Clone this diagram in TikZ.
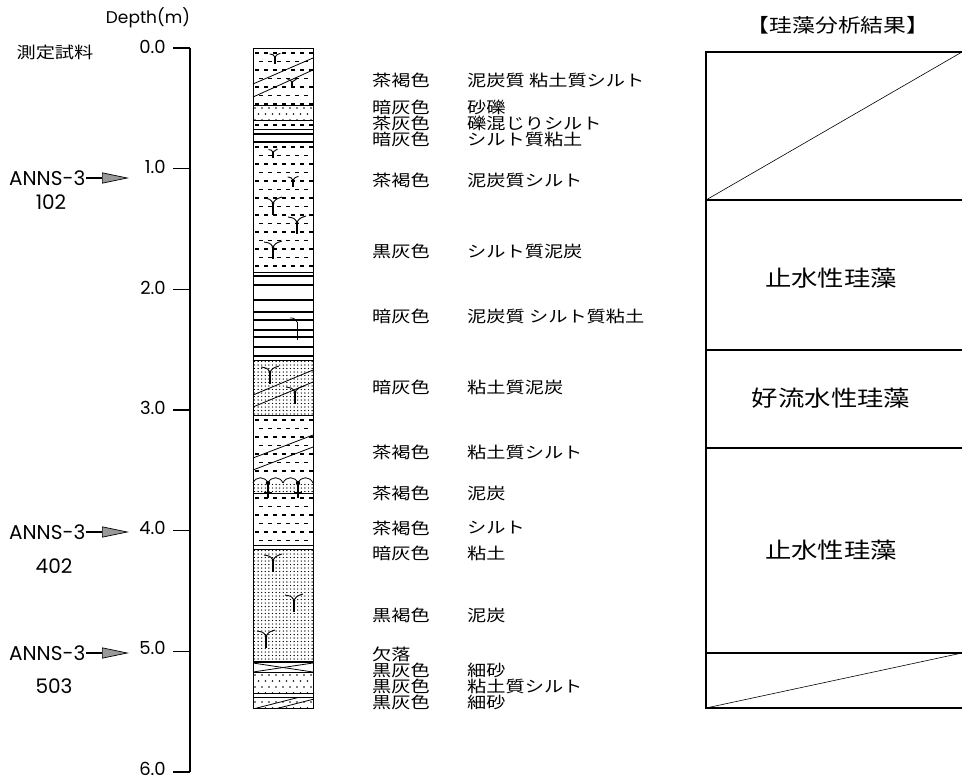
\documentclass[tikz,border=0pt]{standalone}
\usepackage{fontspec}
\setmainfont{Poppins}
\newfontfamily\jpfont{Noto Sans CJK JP}[FakeStretch=1.2]
\usetikzlibrary{arrows.meta}

% silt: staggered rows of short dashes
\newcommand\siltfill[4]{%
  \begin{scope}
    \clip (#1,#2) rectangle (#3,#4);
    \foreach \i in {0,...,16}{\foreach \j in {0,...,7}{%
      \draw[line width=1.1pt] ({#1+2+9*\j+4*mod(\i,2)},{#2+5+8.5*\i}) -- ++(4,0);}}
  \end{scope}}
% sand: sparse staggered dots
\newcommand\sandfill[4]{%
  \begin{scope}
    \clip (#1,#2) rectangle (#3,#4);
    \foreach \i in {0,...,4}{\foreach \j in {0,...,9}{%
      \fill ({#1+2+7*\j+3.5*mod(\i,2)},{#2+3+6*\i}) circle (0.9);}}
  \end{scope}}
% peat / clay: dense dot grid
\newcommand\densefill[4]{%
  \begin{scope}
    \clip (#1,#2) rectangle (#3,#4);
    \foreach \i in {0,...,33}{\foreach \j in {0,...,16}{%
      \fill ({#1+1.5+3.6*\j},{#2+1.5+3.5*\i}) circle (0.7);}}
  \end{scope}}

\begin{document}
\begin{tikzpicture}[x=1pt,y=-1pt,
  axisline/.style={line width=1.4pt},
  depthlbl/.style={font=\fontsize{18}{20}\selectfont, inner sep=0pt},
  samplelbl/.style={font=\fontsize{20}{22}\selectfont, inner sep=0pt},
  samplearrow/.style={line width=1.6pt,
    -{Triangle[length=27pt,width=11pt,fill=black!40,line width=0.7pt]}},
  jplbl/.style={font=\jpfont\fontsize{16}{17}\selectfont, inner sep=0pt, anchor=west},
  boxlbl/.style={font=\jpfont\fontsize{22}{24}\selectfont, inner sep=0pt},
  boxline/.style={line width=1.8pt},
  layer/.style={line width=0.8pt},
  rootmark/.pic={
    \draw[line width=1.2pt] (0,0) -- (0,12);
    \draw[line width=0.9pt] (-9,-5) .. controls (-3,-4) .. (0,0);
    \draw[line width=0.9pt] (9,-6) .. controls (3,-4) .. (0,0);
    \fill (0,0) circle (1.5);}]
\useasboundingbox (0,0) rectangle (962,780);

% ---------- depth scale ----------
\node[font=\fontsize{17}{19}\selectfont, inner sep=0pt] (dtitle) at (148,18) {Depth(m)};
\node[font=\jpfont\fontsize{16}{17}\selectfont, inner sep=0pt] (sampletitle) at (55,52) {測定試料};
\draw[axisline] (190,48) -- (190,772);
\foreach \d in {0,...,6}{
  \draw[axisline] (173,{48+120.67*\d}) -- (190,{48+120.67*\d});
  \node[depthlbl, anchor=east] (d\d) at (166,{47+120.67*\d-0.4*\d}) {\d.0};
}

% ---------- sample positions ----------
\node[samplelbl, anchor=west] (s1) at (9,178) {ANNS-3};
\node[samplelbl] (n1) at (51,202) {102};
\coordinate (p1) at (129,178);
\draw[samplearrow] (s1.east) -- (p1);

\node[samplelbl, anchor=west] (s4) at (9,532) {ANNS-3};
\node[samplelbl] (n4) at (54,566) {402};
\coordinate (p4) at (129,532);
\draw[samplearrow] (s4.east) -- (p4);

\node[samplelbl, anchor=west] (s5) at (9,653) {ANNS-3};
\node[samplelbl] (n5) at (54,686) {503};
\coordinate (p5) at (129,653);
\draw[samplearrow] (s5.east) -- (p5);

% ---------- columnar section ----------
\begin{scope}[layer]
  % peaty clayey silt
  \siltfill{253}{48}{313}{105}
  \draw (253,97) -- (313,70);
  \draw (253,84) -- (313,58);
  \pic[scale=0.6] at (275,57) {rootmark};
  \pic[scale=0.5] at (292,82) {rootmark};
  \draw (253,105) -- (313,105);
  % sandy gravel
  \sandfill{253}{105}{313}{120}
  \draw (253,120) -- (313,120);
  % silt with gravel
  \foreach \j in {0,...,6} \draw[line width=1.1pt] ({255+9*\j},125) -- ++(4,0);
  \draw (253,129) -- (313,129);
  % silty clay
  \draw[line width=1.8pt] (253,134) -- (313,134);
  \draw[line width=2.4pt] (253,142) -- (313,142);
  % peaty silt
  \siltfill{253}{142}{313}{272}
  \pic[scale=0.5] at (273,152) {rootmark};
  \pic[scale=0.6] at (293,180) {rootmark};
  \pic at (273,203) {rootmark};
  \pic at (297,222) {rootmark};
  \pic at (273,247) {rootmark};
  \draw (253,272) -- (313,272);
  % peaty silty clay
  \foreach \y in {276,285,300,312,320,330,337,347,356}
    \draw[line width=1.2pt] (253,\y) -- (313,\y);
  \draw (297,322) -- (297,340);
  \draw (290,318) .. controls (294,318) .. (297,322);
  % clayey peat
  \densefill{253}{360}{313}{415}
  \draw (253,395) -- (313,370);
  \draw (253,407) -- (313,382);
  \pic at (270,372) {rootmark};
  \pic at (295,392) {rootmark};
  \draw (253,360) -- (313,360);
  \draw (253,415) -- (313,415);
  % clayey silt
  \siltfill{253}{415}{313}{475}
  \draw (253,458) -- (313,435);
  \draw (253,470) -- (313,447);
  % peat
  \foreach \x in {253,268,283,298}
    \draw (\x,483) .. controls (\x+3,476) and (\x+12,476) .. (\x+15,483);
  \densefill{253}{483}{313}{493}
  \fill (268,483) circle (2.2);
  \fill (298,483) circle (2.2);
  \draw[line width=1.1pt] (268,483) -- (268,498);
  \draw[line width=1.1pt] (298,483) -- (298,498);
  \draw (264,492) -- (272,492);
  \draw (294,492) -- (302,492);
  \draw (253,493) -- (313,493);
  % silt
  \siltfill{253}{493}{313}{545}
  % clay
  \draw (253,545) -- (313,545);
  \draw (253,549) -- (313,549);
  % peat
  \densefill{253}{549}{313}{662}
  \pic at (273,560) {rootmark};
  \pic at (294,600) {rootmark};
  \pic at (266,636) {rootmark};
  \draw[line width=1.6pt] (253,662) -- (313,662);
  % missing section
  \draw (253,663) -- (313,672);
  \draw (253,672) -- (313,663);
  \draw (253,672) -- (313,672);
  % fine sand
  \sandfill{253}{672}{313}{693}
  \draw (253,693) -- (313,693);
  \draw (253,697) -- (313,697);
  % fine sand with clayey silt
  \begin{scope}
    \clip (253,697) rectangle (313,708);
    \draw (253,709) -- (300,697);
    \draw (275,709) -- (322,697);
  \end{scope}
  \sandfill{253}{699}{313}{708}
  % outline
  \draw[line width=1pt] (253,48) rectangle (313,708);
\end{scope}

% ---------- lithology labels ----------
\node[jplbl] (c1)  at (372,80)  {茶褐色};
\node[jplbl] (l1)  at (467,80)  {泥炭質 粘土質シルト};
\node[jplbl] (c2)  at (372,107) {暗灰色};
\node[jplbl] (l2)  at (467,107) {砂礫};
\node[jplbl] (c3)  at (372,123) {茶灰色};
\node[jplbl] (l3)  at (467,123) {礫混じりシルト};
\node[jplbl] (c4)  at (372,139) {暗灰色};
\node[jplbl] (l4)  at (467,139) {シルト質粘土};
\node[jplbl] (c5)  at (372,180) {茶褐色};
\node[jplbl] (l5)  at (467,180) {泥炭質シルト};
\node[jplbl] (c6)  at (372,251) {黒灰色};
\node[jplbl] (l6)  at (467,251) {シルト質泥炭};
\node[jplbl] (c7)  at (372,316) {暗灰色};
\node[jplbl] (l7)  at (467,316) {泥炭質 シルト質粘土};
\node[jplbl] (c8)  at (372,387) {暗灰色};
\node[jplbl] (l8)  at (467,387) {粘土質泥炭};
\node[jplbl] (c9)  at (372,452) {茶褐色};
\node[jplbl] (l9)  at (467,452) {粘土質シルト};
\node[jplbl] (c10) at (372,493) {茶褐色};
\node[jplbl] (l10) at (467,493) {泥炭};
\node[jplbl] (c11) at (372,528) {茶褐色};
\node[jplbl] (l11) at (467,528) {シルト};
\node[jplbl] (c12) at (372,553) {暗灰色};
\node[jplbl] (l12) at (467,553) {粘土};
\node[jplbl] (c13) at (372,615) {黒褐色};
\node[jplbl] (l13) at (467,615) {泥炭};
\node[jplbl] (c14) at (372,654) {欠落};
\node[jplbl] (c15) at (372,670) {黒灰色};
\node[jplbl] (l15) at (467,670) {細砂};
\node[jplbl] (c16) at (372,686) {黒灰色};
\node[jplbl] (l16) at (467,686) {粘土質シルト};
\node[jplbl] (c17) at (372,702) {黒灰色};
\node[jplbl] (l17) at (467,702) {細砂};

% ---------- diatom analysis ----------
\node[font=\jpfont\fontsize{19}{21}\selectfont, inner sep=0pt] (dtitle2) at (838,25) {【珪藻分析結果】};
\draw[boxline] (962,52) -- (706,52) -- (706,708) -- (962,708);
\foreach \y in {200,350,448,653} \draw[boxline] (706,\y) -- (962,\y);
\draw[line width=0.6pt] (706,200) -- (962,52);
\draw[line width=0.6pt] (706,708) -- (962,653);
\node[boxlbl] (z1) at (831,278) {止水性珪藻};
\node[boxlbl] (z2) at (831,398) {好流水性珪藻};
\node[boxlbl] (z3) at (831,550) {止水性珪藻};
\end{tikzpicture}
\end{document}
